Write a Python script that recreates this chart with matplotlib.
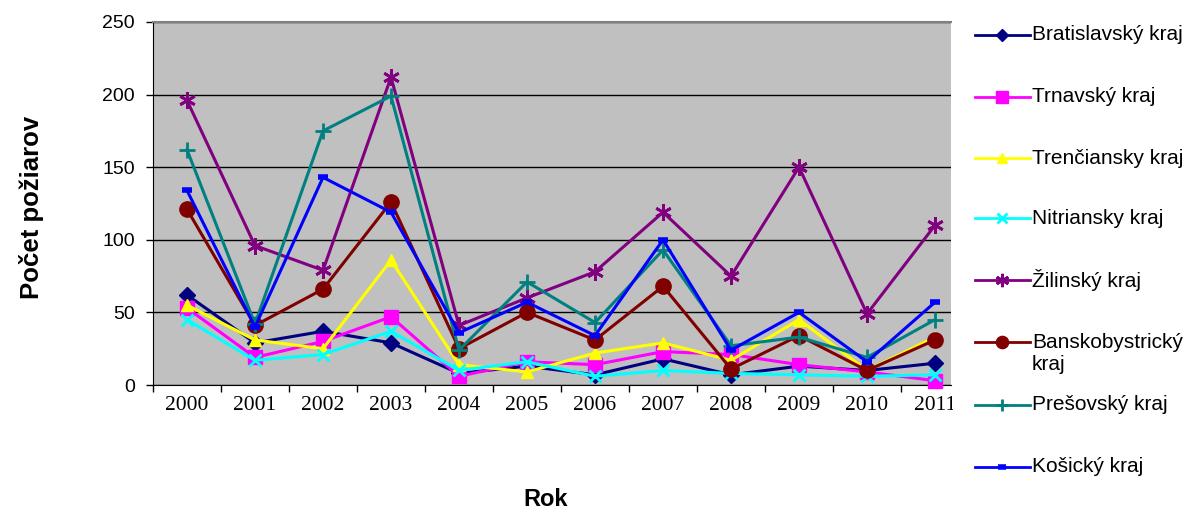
# %% Libraries
# --+ core libraries
import matplotlib
matplotlib.use("Agg")
import matplotlib.pyplot as plt
from matplotlib.lines import Line2D
from matplotlib.patches import Rectangle

# %% Data
# --+ categories
years = ['2000', '2001', '2002', '2003', '2004', '2005',
         '2006', '2007', '2008', '2009', '2010', '2011']
# --+ fires per region
bratislavsky = [62, 29, 37, 29, 8, 13, 7, 18, 7, 13, 10, 15]
trnavsky = [53, 19, 30, 47, 6, 16, 14, 23, 21, 14, 9, 3]
trenciansky = [55, 31, 25, 86, 14, 9, 22, 29, 17, 45, 10, 33]
nitriansky = [45, 17, 21, 37, 10, 16, 6, 10, 8, 7, 6, 7]
zilinsky = [196, 96, 79, 212, 41, 60, 78, 119, 75, 150, 49, 110]
banskobystricky = [121, 41, 66, 126, 25, 50, 31, 68, 11, 34, 10, 31]
presovsky = [162, 42, 175, 199, 24, 71, 43, 93, 27, 33, 19, 45]
kosicky = [134, 40, 143, 119, 36, 57, 34, 100, 24, 50, 16, 57]
# --+ legend labels
labels = ['Bratislavský kraj', 'Trnavský kraj', 'Trenčiansky kraj',
          'Nitriansky kraj', 'Žilinský kraj', 'Banskobystrický\nkraj',
          'Prešovský kraj', 'Košický kraj']

# %% Styles
series = [bratislavsky, trnavsky, trenciansky, nitriansky,
          zilinsky, banskobystricky, presovsky, kosicky]
colors = ['#000080', '#FF00FF', '#FFFF00', '#00FFFF',
          '#800080', '#800000', '#008080', '#0000FF']
markers = ['D', 's', '^', 'x', (6, 2, 0), 'o', '+', '_']
msizes = [8, 10, 9, 9, 12, 11, 11, 7]
mews = [1, 1, 1, 2, 2, 1, 2, 4]

plt.rcParams['font.family'] = ['Liberation Sans', 'DejaVu Sans']

# %% Figure
fig = plt.figure(figsize=(11.9, 5.12), dpi=100)
ax = fig.add_axes([153 / 1190, 1 - 385 / 512, 798 / 1190, 363 / 512])
ax.set_facecolor('#C0C0C0')

x = list(range(len(years)))
for vals, c, m, ms, mew in zip(series, colors, markers, msizes, mews):
    ax.plot(x, vals, color=c, lw=2.2, marker=m, ms=ms, mew=mew,
            mec=c, mfc=c, clip_on=False, zorder=3)

# --+ axes
ax.set_xlim(-0.5, 11.235)
ax.set_ylim(0, 250)
ax.set_yticks([0, 50, 100, 150, 200, 250])
ax.set_xticks(x)
ax.set_xticklabels(years, family='Liberation Serif', fontsize=15.5)
ax.set_xticks([i - 0.5 for i in range(len(years))], minor=True)
ax.tick_params(axis='x', which='major', length=0, pad=8)
ax.tick_params(axis='x', which='minor', length=5, width=1, color='black')
ax.tick_params(axis='y', length=5, width=1, pad=8, labelsize=14)
ax.yaxis.grid(True, color='black', lw=1)
ax.set_axisbelow(True)
ax.spines['right'].set_visible(False)
ax.spines['top'].set_color('#808080')
ax.spines['top'].set_linewidth(1.5)
ax.spines['left'].set_color('black')
ax.spines['bottom'].set_color('black')

# --+ axis titles
fig.text(32 / 1190, 1 - 207 / 512, 'Počet požiarov', rotation=90,
         ha='center', va='center', fontsize=18.5, fontweight='bold')
fig.text(546 / 1190, 1 - 500 / 512, 'Rok', ha='center', va='center',
         fontsize=17, fontweight='bold')

# %% Legend
# --+ white panel over the right edge
fig.add_artist(Rectangle((953 / 1190, 0), 1, 1, transform=fig.transFigure,
                         facecolor='white', edgecolor='none', zorder=10))
rows = [35, 97, 158, 218, 280, 342, 405, 467]
for lab, c, m, ms, mew, yp in zip(labels, colors, markers, msizes, mews, rows):
    y = 1 - yp / 512
    fig.add_artist(Line2D([975 / 1190, 1002 / 1190, 1030 / 1190], [y, y, y],
                          transform=fig.transFigure, color=c, lw=2,
                          marker=m, markevery=[1], ms=ms * 0.8, mew=mew,
                          mec=c, mfc=c, zorder=11))
    if '\n' in lab:
        y = 1 - (yp + 12) / 512
    fig.text(1032 / 1190, y, lab, ha='left', va='center', fontsize=15,
             zorder=12)

fig.savefig('out.png', dpi=100)
